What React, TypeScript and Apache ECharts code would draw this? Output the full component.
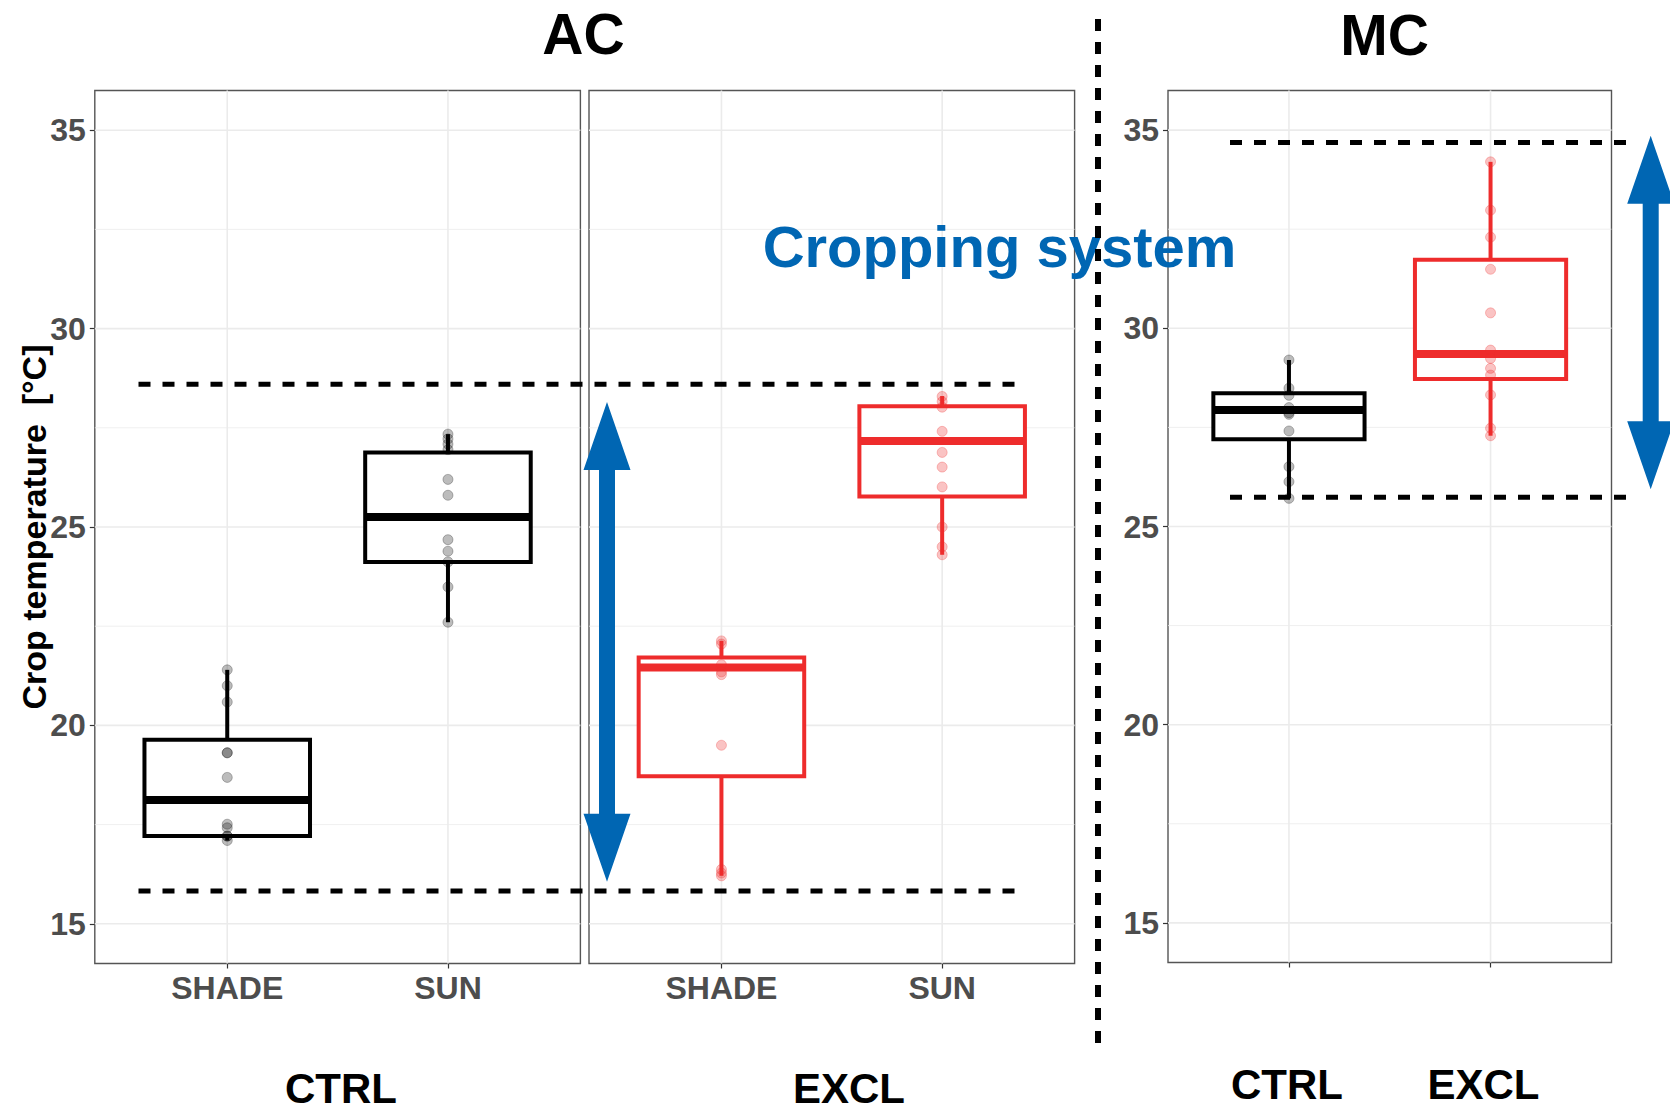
import React, { useEffect, useRef } from "react";
import * as echarts from "echarts";

const FONT = "'Liberation Sans', Arial, Helvetica, sans-serif";

// ---------- data ----------
const AC_CATEGORIES = ["SHADE", "SUN"];
const X_POSITIONS = [1, 2];
const Y_MAJOR = [15, 20, 25, 30, 35];
const Y_MINOR = [17.5, 22.5, 27.5, 32.5];

// box statistics: [x, min, q1, median, q3, max]
const AC_CTRL_BOXES = [
  [1, 17.1, 17.21, 18.12, 19.64, 21.4],
  [2, 22.6, 24.12, 25.25, 26.88, 27.34],
];
const AC_EXCL_BOXES = [
  [1, 16.21, 18.72, 21.46, 21.71, 22.13],
  [2, 24.3, 25.77, 27.17, 28.04, 28.3],
];
const MC_CTRL_BOXES = [[1, 25.71, 27.2, 27.94, 28.36, 29.2]];
const MC_EXCL_BOXES = [[2, 27.29, 28.72, 29.35, 31.73, 34.2]];

// individual observations
const AC_CTRL_SHADE = [21.4, 21.0, 20.59, 19.31, 19.31, 18.69, 17.51, 17.42, 17.21, 17.21, 17.1];
const AC_CTRL_SUN = [27.34, 27.22, 27.09, 26.95, 26.2, 25.8, 24.68, 24.39, 24.12, 23.49, 22.6];
const AC_EXCL_SHADE = [22.13, 22.05, 21.53, 21.35, 21.28, 19.5, 16.37, 16.28, 16.21];
const AC_EXCL_SUN = [28.29, 28.16, 28.02, 27.41, 26.88, 26.51, 26.01, 25.0, 24.5, 24.3];
const MC_CTRL = [29.2, 28.49, 28.31, 28.0, 27.87, 27.83, 27.41, 26.51, 26.13, 25.71];
const MC_EXCL = [34.2, 32.98, 32.3, 31.49, 30.39, 29.45, 29.24, 28.99, 28.82, 28.32, 27.48, 27.29];

// reference (dashed) lines and arrow ends
const AC_REF_LINES = [28.6, 15.83];
const MC_REF_LINES = [34.69, 25.74];
const AC_ARROW = [28.15, 16.06];
const MC_ARROW = [34.86, 25.94];

// ---------- styles ----------
const BLACK = "#000000";
const RED = "#EE2C2C";
const BLUE = "#0066B3";
const BLACK_PT = "rgba(0,0,0,0.33)";
const RED_PT = "rgba(238,44,44,0.36)";

const GRID_LINE_DATA = [
  ...Y_MAJOR.map((v) => [1.5, v, 0, 1]),
  ...Y_MINOR.map((v) => [1.5, v, 0, 0]),
  ...X_POSITIONS.map((x) => [x, 25, 1, 1]),
];

function renderGridLine(params: any, api: any) {
  const cs = params.coordSys;
  const orient = api.value(2);
  const major = api.value(3) === 1;
  const style = { stroke: "#EBEBEB", lineWidth: major ? 1.6 : 0.8 };
  if (orient === 0) {
    const y = api.coord([1.5, api.value(1)])[1];
    return { type: "line", shape: { x1: cs.x, y1: y, x2: cs.x + cs.width, y2: y }, style };
  }
  const x = api.coord([api.value(0), 25])[0];
  return { type: "line", shape: { x1: x, y1: cs.y, x2: x, y2: cs.y + cs.height }, style };
}

function boxRenderer(color: string) {
  return (params: any, api: any) => {
    const x = api.value(0);
    const half = 0.375;
    const pMin = api.coord([x, api.value(1)]);
    const pQ1 = api.coord([x, api.value(2)]);
    const pMed = api.coord([x, api.value(3)]);
    const pQ3 = api.coord([x, api.value(4)]);
    const pMax = api.coord([x, api.value(5)]);
    const left = api.coord([x - half, api.value(3)])[0];
    const right = api.coord([x + half, api.value(3)])[0];
    const ls = { stroke: color, lineWidth: 4 };
    return {
      type: "group",
      children: [
        { type: "line", shape: { x1: pQ3[0], y1: pQ3[1], x2: pMax[0], y2: pMax[1] }, style: ls },
        { type: "line", shape: { x1: pQ1[0], y1: pQ1[1], x2: pMin[0], y2: pMin[1] }, style: ls },
        {
          type: "rect",
          shape: { x: left, y: pQ3[1], width: right - left, height: pQ1[1] - pQ3[1] },
          style: { fill: "#ffffff", stroke: color, lineWidth: 4, lineJoin: "miter" },
        },
        { type: "line", shape: { x1: left, y1: pMed[1], x2: right, y2: pMed[1] }, style: { stroke: color, lineWidth: 8 } },
      ],
    };
  };
}

function gridSeries(i: number) {
  return {
    type: "custom",
    xAxisIndex: i,
    yAxisIndex: i,
    z: 1,
    silent: true,
    renderItem: renderGridLine,
    data: GRID_LINE_DATA,
  };
}

function boxSeries(i: number, data: number[][], color: string) {
  return {
    type: "custom",
    xAxisIndex: i,
    yAxisIndex: i,
    z: 2,
    silent: true,
    encode: { x: 0, y: [1, 2, 3, 4, 5] },
    renderItem: boxRenderer(color),
    data,
  };
}

function pointSeries(i: number, x: number, values: number[], color: string) {
  return {
    type: "scatter",
    xAxisIndex: i,
    yAxisIndex: i,
    z: 3,
    silent: true,
    symbol: "circle",
    symbolSize: 10,
    itemStyle: { color, borderColor: color, borderWidth: 1 },
    data: values.map((v) => [x, v]),
  };
}

const GRIDS = [
  { left: 94.8, top: 90.5, width: 485.6, height: 873 },
  { left: 589, top: 90.5, width: 485.6, height: 873 },
  { left: 1168, top: 90.5, width: 443.5, height: 872 },
];

function xAxis(i: number, showLabels: boolean) {
  return {
    type: "value",
    gridIndex: i,
    min: 0.4,
    max: 2.6,
    axisLine: { show: false },
    splitLine: { show: false },
    axisTick: {
      show: true,
      customValues: X_POSITIONS,
      length: 5,
      lineStyle: { color: "#333333", width: 1.2 },
    },
    axisLabel: {
      show: showLabels,
      customValues: X_POSITIONS,
      formatter: (v: number) => AC_CATEGORIES[Math.round(v) - 1] ?? "",
      fontSize: 32,
      fontWeight: "bold",
      fontFamily: FONT,
      color: "#4D4D4D",
      margin: 8,
    },
  };
}

function yAxis(i: number, showLabels: boolean) {
  return {
    type: "value",
    gridIndex: i,
    min: 14,
    max: 36,
    axisLine: { show: false },
    splitLine: { show: false },
    axisTick: {
      show: showLabels,
      customValues: Y_MAJOR,
      length: 5,
      lineStyle: { color: "#333333", width: 1.2 },
    },
    axisLabel: {
      show: showLabels,
      customValues: Y_MAJOR,
      fontSize: 32,
      fontWeight: "bold",
      fontFamily: FONT,
      color: "#4D4D4D",
      margin: 9,
    },
  };
}

function txt(id: string, text: string, x: number, y: number, size: number, fill: string, extra: any = {}) {
  return {
    type: "text",
    id,
    x,
    y,
    z: 50,
    silent: true,
    ...extra,
    style: {
      text,
      fill,
      fontSize: size,
      fontWeight: "bold",
      fontFamily: FONT,
      align: "center",
      verticalAlign: "middle",
      textAlign: "center",
      textVerticalAlign: "middle",
    },
  };
}

function arrow(id: string, cx: number, yTop: number, yBot: number) {
  const hw = 23.5;
  const sw = 8;
  const hl = 68;
  return {
    type: "polygon",
    id,
    z: 55,
    silent: true,
    shape: {
      points: [
        [cx, yTop],
        [cx + hw, yTop + hl],
        [cx + sw, yTop + hl],
        [cx + sw, yBot - hl],
        [cx + hw, yBot - hl],
        [cx, yBot],
        [cx - hw, yBot - hl],
        [cx - sw, yBot - hl],
        [cx - sw, yTop + hl],
        [cx - hw, yTop + hl],
      ],
    },
    style: { fill: BLUE },
  };
}

function dashed(id: string, x1: number, y1: number, x2: number, y2: number, w: number, dash: number[]) {
  return {
    type: "line",
    id,
    z: 60,
    silent: true,
    shape: { x1, y1, x2, y2 },
    style: { stroke: "#000000", lineWidth: w, lineDash: dash },
  };
}

export default function App() {
  const ref = useRef<HTMLDivElement>(null);

  useEffect(() => {
    if (!ref.current) return;
    const chart = echarts.init(ref.current, undefined, { renderer: "svg" });
    const option: any = {
      animation: false,
      backgroundColor: "#ffffff",
      grid: GRIDS.map((g) => ({
        ...g,
        show: true,
        borderColor: "#555555",
        borderWidth: 1.4,
        backgroundColor: "transparent",
        containLabel: false,
      })),
      xAxis: [xAxis(0, true), xAxis(1, true), xAxis(2, false)],
      yAxis: [yAxis(0, true), yAxis(1, false), yAxis(2, true)],
      series: [
        gridSeries(0),
        gridSeries(1),
        gridSeries(2),
        boxSeries(0, AC_CTRL_BOXES, BLACK),
        boxSeries(1, AC_EXCL_BOXES, RED),
        boxSeries(2, MC_CTRL_BOXES, BLACK),
        boxSeries(2, MC_EXCL_BOXES, RED),
        pointSeries(0, 1, AC_CTRL_SHADE, BLACK_PT),
        pointSeries(0, 2, AC_CTRL_SUN, BLACK_PT),
        pointSeries(1, 1, AC_EXCL_SHADE, RED_PT),
        pointSeries(1, 2, AC_EXCL_SUN, RED_PT),
        pointSeries(2, 1, MC_CTRL, BLACK_PT),
        pointSeries(2, 2, MC_EXCL, RED_PT),
      ],
    };
    chart.setOption(option);

    const yAC = (v: number) => chart.convertToPixel({ yAxisIndex: 0 } as any, v) as unknown as number;
    const yMC = (v: number) => chart.convertToPixel({ yAxisIndex: 2 } as any, v) as unknown as number;

    const graphics: any[] = [
      txt("t-ac", "AC", 583.5, 34, 57, "#000000"),
      txt("t-mc", "MC", 1384.5, 35, 57, "#000000"),
      txt("t-crop", "Cropping system", 999.5, 246, 58, BLUE),
      txt("t-ylab", "Crop temperature  [°C]", 34, 527, 34, "#000000", { rotation: Math.PI / 2 }),
      txt("t-ctrl-ac", "CTRL", 341, 1088, 42, "#000000"),
      txt("t-excl-ac", "EXCL", 849, 1088, 42, "#000000"),
      txt("t-ctrl-mc", "CTRL", 1287, 1084, 42, "#000000"),
      txt("t-excl-mc", "EXCL", 1483.5, 1084, 42, "#000000"),
      ...AC_REF_LINES.map((v, k) => dashed("ac-ref-" + k, 138.5, yAC(v), 1018, yAC(v), 5, [12, 12])),
      ...MC_REF_LINES.map((v, k) => dashed("mc-ref-" + k, 1230, yMC(v), 1627, yMC(v), 5, [12, 12])),
      dashed("v-sep", 1098, 19, 1098, 1047, 6, [12, 11]),
      arrow("ac-arrow", 607, yAC(AC_ARROW[0]), yAC(AC_ARROW[1])),
      arrow("mc-arrow", 1650.7, yMC(MC_ARROW[0]), yMC(MC_ARROW[1])),
    ];
    chart.setOption({ graphic: { elements: graphics } });

    return () => chart.dispose();
  }, []);

  return (
    <div
      ref={ref}
      style={{ position: "absolute", left: 0, top: 0, width: 1670, height: 1112, background: "#ffffff" }}
    />
  );
}
